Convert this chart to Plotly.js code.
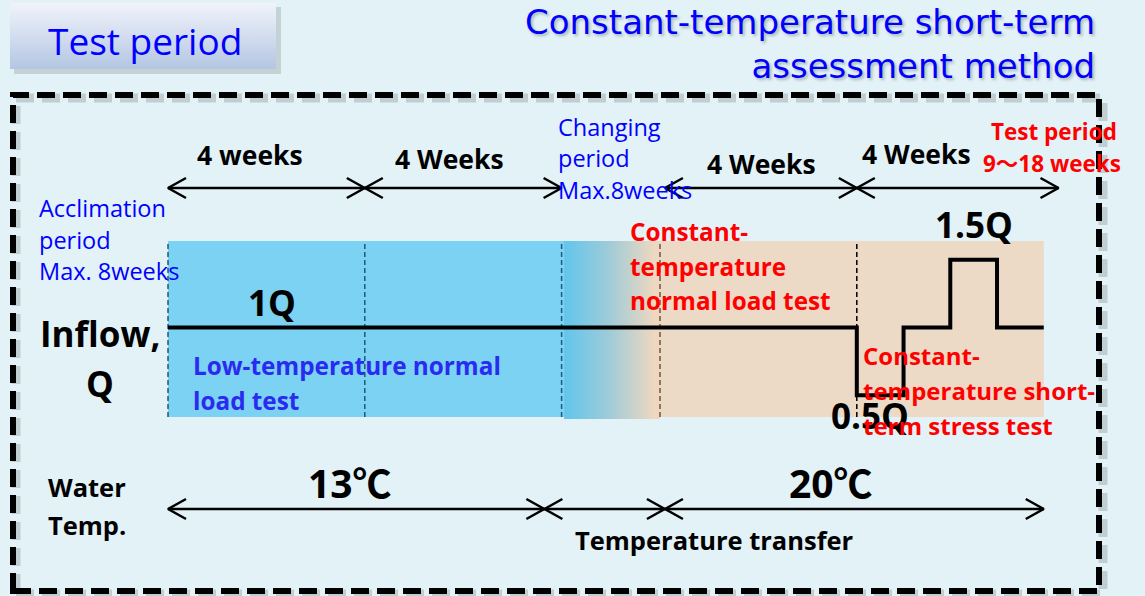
<!DOCTYPE html>
<html><head><meta charset="utf-8">
<script src="https://cdn.plot.ly/plotly-3.0.1.min.js"></script>
<style>html,body{margin:0;padding:0;background:#e2f2f7;} #chart{width:1145px;height:596px;}</style>
</head><body><div id="chart"></div>
<script>
// ---------------- data ----------------
const periodLabels = ['4 weeks', '4 Weeks', '4 Weeks', '4 Weeks'];
const periodStart = [0, 4, 10.1, 14];
const periodEnd = [4, 8, 14, 18.1];
const dividerWeeks = [0, 4, 8, 10, 14];
const flowWeeks = [0, 14, 14, 14.95, 14.95, 15.9, 15.9, 16.85, 16.85, 17.8];
const flowQ = [1, 1, 0.5, 0.5, 1, 1, 1.5, 1.5, 1, 1];
const flowLabels = ['1Q', '0.5Q', '1.5Q'];
const tempLabels = ['13℃', 'Temperature transfer', '20℃'];
const tempStart = [0, 7.65, 10.1];
const tempEnd = [7.65, 10.1, 17.8];
const lowTempEnd = 8.05, changeEnd = 10, testEnd = 17.8;

// ---------------- layout helpers ----------------
const W = 1145, H = 596;
const X0 = 168, PXW = 49.2, Y1 = 327.5, PXQ = 135.5;
const xw = px => (px - X0) / PXW;
const yq = py => 1 + (Y1 - py) / PXQ;
const FONT = '"Open Sans", "Noto Sans CJK JP", sans-serif';

const bandTop = yq(241), bandBot = yq(417), gradBot = yq(419);

const traces = [];
// gradient box of "Test period"
traces.push({
  type: 'scatter', mode: 'lines', hoverinfo: 'skip', showlegend: false,
  x: [xw(10), xw(276), xw(276), xw(10), xw(10)],
  y: [yq(69), yq(69), yq(3), yq(3), yq(69)],
  fill: 'toself', line: {width: 0, color: 'rgba(0,0,0,0)'},
  fillgradient: {type: 'vertical', colorscale: [[0, '#b3c6e2'], [0.5, '#d3ddef'], [1, '#f0f3fa']]}
});
// gradient (changing period)
traces.push({
  type: 'scatter', mode: 'lines', hoverinfo: 'skip', showlegend: false,
  x: [lowTempEnd, changeEnd, changeEnd, lowTempEnd, lowTempEnd],
  y: [gradBot, gradBot, bandTop, bandTop, gradBot],
  fill: 'toself', line: {width: 0, color: 'rgba(0,0,0,0)'},
  fillgradient: {type: 'horizontal', colorscale: [[0, '#62c5ed'], [0.45, '#9ccbd9'], [0.95, '#efd8c0'], [1, '#f2d5bd']]}
});
// dividers
const divColors = ['#1d5a78', '#1d5a78', '#1d5a78', '#6b5a4a', '#000000'];
dividerWeeks.forEach((d, i) => traces.push({
  type: 'scatter', mode: 'lines', hoverinfo: 'skip', showlegend: false,
  x: [d, d], y: [bandBot, bandTop],
  line: {color: divColors[i], width: 1.5, dash: '5px,3px'}
}));
// flow line
traces.push({
  type: 'scatter', mode: 'lines', hoverinfo: 'skip', showlegend: false,
  x: flowWeeks, y: flowQ, line: {color: '#000', width: 4}
});
// arrows
const dx = 18 / PXW, dy = 10 / PXQ;
function arrows(starts, ends, yv) {
  const ax = [], ay = [];
  starts.forEach((a, i) => {
    const b = ends[i];
    ax.push(a, b, null, a + dx, a, a + dx, null, b - dx, b, b - dx, null);
    ay.push(yv, yv, null, yv + dy, yv, yv - dy, null, yv + dy, yv, yv - dy, null);
  });
  return {type: 'scatter', mode: 'lines', hoverinfo: 'skip', showlegend: false,
    x: ax, y: ay, line: {color: '#000', width: 2.5}};
}
traces.push(arrows(periodStart, periodEnd, yq(188)));
traces.push(arrows(tempStart, tempEnd, yq(509)));

const shapes = [
  {type: 'rect', xref: 'x', yref: 'y', x0: 0, x1: lowTempEnd, y0: bandBot, y1: bandTop,
   fillcolor: '#7bd2f3', line: {width: 0}, layer: 'below'},
  {type: 'rect', xref: 'x', yref: 'y', x0: changeEnd, x1: testEnd, y0: bandBot, y1: bandTop,
   fillcolor: '#ecdac6', line: {width: 0}, layer: 'below'},
  // Test period box shadow
  {type: 'rect', xref: 'paper', yref: 'paper', x0: 14 / W, x1: 281 / W, y0: 1 - 74 / H, y1: 1 - 7 / H,
   fillcolor: 'rgba(60,60,60,0.18)', line: {width: 0}, layer: 'below'},
  // outer dashed border shadow + border
  {type: 'rect', xref: 'paper', yref: 'paper', x0: 16 / W, x1: 1103 / W, y0: 1 - 594 / H, y1: 1 - 98 / H,
   line: {color: 'rgba(0,0,0,0.15)', width: 9, dash: '18px,8px'}, layer: 'below'},
  {type: 'rect', xref: 'paper', yref: 'paper', x0: 13 / W, x1: 1099 / W, y0: 1 - 591 / H, y1: 1 - 95 / H,
   line: {color: '#000', width: 6, dash: '18px,8px'}, layer: 'above'}
];

const annotations = [];
function ann(text, px, py, size, color, bold, xanchor, family, extra) {
  const a = {
    xref: 'paper', yref: 'paper', x: px / W, y: 1 - py / H, showarrow: false,
    xanchor: xanchor || 'center', yanchor: 'middle',
    text: bold ? '<b>' + text + '</b>' : text,
    font: {family: family || FONT, size: size, color: color}
  };
  if (extra) Object.assign(a, extra);
  annotations.push(a);
}
const BLUE = '#0000ff', RED = '#ff0000', BLK = '#000000';
ann('Test period', 145, 40, 37, BLUE, false);
ann('Constant-temperature short-term<br>assessment method', 1097, 44, 34, BLUE, false, 'right',
    '"DejaVu Sans", sans-serif', {align: 'right'});
annotations[annotations.length - 1].font.shadow = '2px 2px 3px rgba(0,0,0,0.25)';
ann(periodLabels[0], 250, 155, 26.5, BLK, true);
ann(periodLabels[1], 449, 159, 26.5, BLK, true);
ann(periodLabels[2], 761, 164, 26.5, BLK, true);
ann(periodLabels[3], 916, 154, 26.5, BLK, true);
ann('Changing', 556, 127, 23.5, BLUE, false, 'left');
ann('period', 556, 158, 23.5, BLUE, false, 'left');
ann('Max.8weeks', 556, 190, 23.5, BLUE, false, 'left');
ann('Test period', 1054, 131, 22.5, RED, true);
ann('9～18 weeks', 1052, 163, 22.5, RED, true);
ann('Acclimation', 37, 208, 23.5, BLUE, false, 'left');
ann('period', 37, 240, 23.5, BLUE, false, 'left');
ann('Max. 8weeks', 37, 271, 23.5, BLUE, false, 'left');
ann(flowLabels[0], 272, 302, 35, BLK, true);
ann(flowLabels[2], 974, 225, 35, BLK, true);
ann(flowLabels[1], 870, 415, 35, BLK, true);
ann('Inflow,', 100, 333, 35, BLK, true);
ann('Q', 100, 383, 35, BLK, true);
ann('Low-temperature normal', 191, 366, 24.3, '#2a2af0', true, 'left');
ann('load test', 191, 401, 24.3, '#2a2af0', true, 'left');
ann('Constant-', 628, 231, 24.3, RED, true, 'left');
ann('temperature', 628, 266, 24.3, RED, true, 'left');
ann('normal load test', 628, 300, 24.3, RED, true, 'left');
ann('Constant-', 861, 355, 24, RED, true, 'left');
ann('temperature short-', 861, 390, 24, RED, true, 'left');
ann('term stress test', 861, 425, 24, RED, true, 'left');
ann('Water', 46, 487, 25.5, BLK, true, 'left');
ann('Temp.', 46, 525, 25.5, BLK, true, 'left');
ann(tempLabels[0], 350, 482, 39, BLK, true);
ann(tempLabels[2], 831, 482, 39, BLK, true);
ann(tempLabels[1], 714, 540, 25.5, BLK, true);

const layout = {
  width: W, height: H, margin: {l: 0, r: 0, t: 0, b: 0, pad: 0},
  paper_bgcolor: '#e2f2f7', plot_bgcolor: '#e2f2f7', showlegend: false,
  xaxis: {range: [xw(0), xw(W)], visible: false, fixedrange: true},
  yaxis: {range: [yq(H), yq(0)], visible: false, fixedrange: true},
  shapes: shapes, annotations: annotations
};
Plotly.newPlot('chart', traces, layout, {displayModeBar: false, staticPlot: true});
</script></body></html>
